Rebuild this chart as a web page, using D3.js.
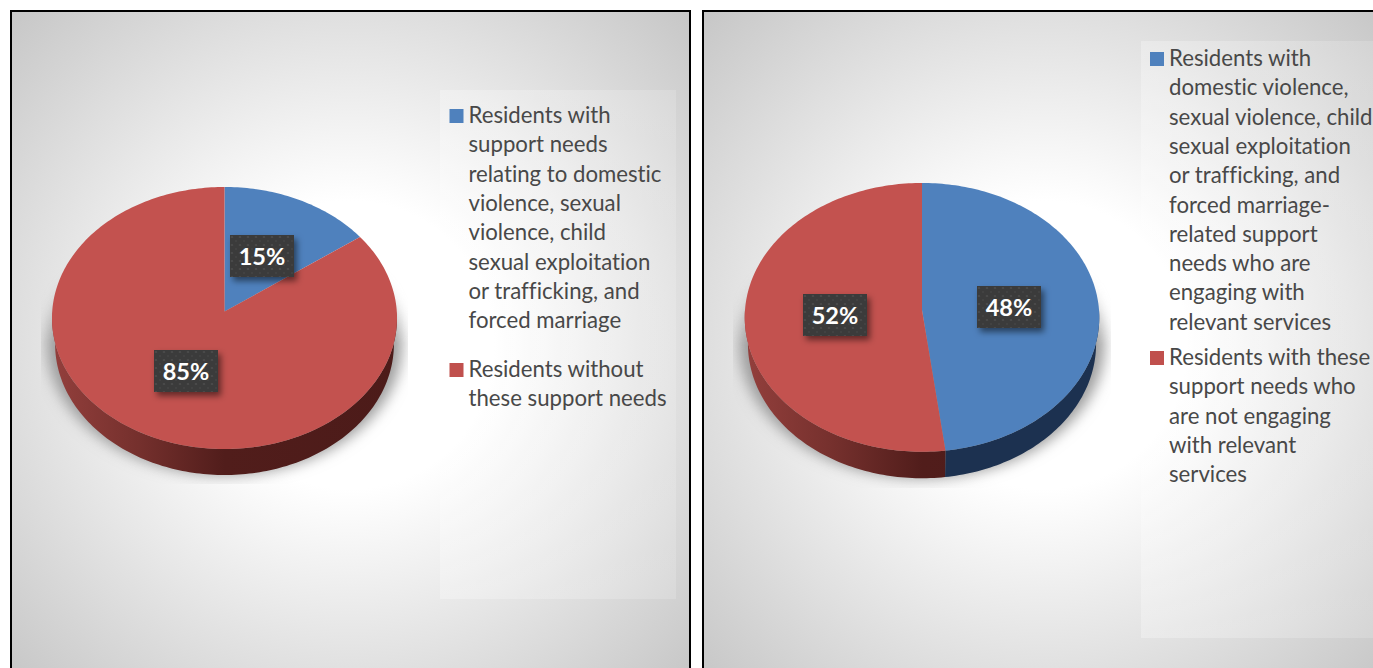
<!DOCTYPE html>
<html>
<head>
<meta charset="utf-8">
<script src="https://cdn.jsdelivr.net/npm/d3@7"></script>
<style>
  html, body { margin: 0; padding: 0; background: #fff; overflow: hidden; }
  svg { display: block; }
  text { font-family: Lato, "Noto Sans", sans-serif; font-variant-ligatures: none; }
</style>
</head>
<body>
<svg id="chart" width="1373" height="668"></svg>
<script>
// Shares per pie, in clockwise order from twelve o'clock
const prevalenceShares = [15, 85];
const engagementShares = [48, 52];

// Legend entries, already wrapped to the legend column
const prevalenceLegend = [
  ["Residents with", "support needs", "relating to domestic", "violence, sexual", "violence, child", "sexual exploitation", "or trafficking, and", "forced marriage"],
  ["Residents without", "these support needs"]
];
const engagementLegend = [
  ["Residents with", "domestic violence,", "sexual violence, child", "sexual exploitation", "or trafficking, and", "forced marriage-", "related support", "needs who are", "engaging with", "relevant services"],
  ["Residents with these", "support needs who", "are not engaging", "with relevant", "services"]
];

const sliceColours = ["#4f81bd", "#c3524f"];
const swatchColours = ["#4f81bd", "#c0504d"];
const wallColours = [
  [[0, "#1c3150"], [1, "#1c3150"]],
  [[0, "#933f3c"], [0.25, "#75302d"], [0.5, "#511d1b"], [1, "#4c1b19"]]
];

// Layout of each framed panel
const panels = [
  {
    id: "a", shares: prevalenceShares, legend: prevalenceLegend,
    frame: { x: 11, y: 11, w: 679, h: 700 }, glow: { cx: 350, cy: 345, r: 480 },
    pie: { cx: 224.5, tipY: 311.6, a: 130.7, b: 172.3, k: 0.0489, depth: 26 },
    shadow: { x: 41, y: 250, w: 367, h: 234 },
    legendBox: { x: 440, y: 90, w: 236, h: 509 },
    legendX: 449.5, legendStarts: [123, 377],
    labels: [[230, 235], [154, 350]]
  },
  {
    id: "b", shares: engagementShares, legend: engagementLegend,
    frame: { x: 703, y: 11, w: 690, h: 700 }, glow: { cx: 1043, cy: 345, r: 480 },
    pie: { cx: 922, tipY: 310, a: 134, b: 177, k: 0.0547, depth: 26.5 },
    shadow: { x: 733, y: 250, w: 378, h: 238 },
    legendBox: { x: 1141, y: 41, w: 240, h: 597 },
    legendX: 1150, legendStarts: [66, 365],
    labels: [[977, 286], [803, 294]]
  }
];

const LINE_GAP = 29.3;
const LABEL_W = 64, LABEL_H = 42;

const svg = d3.select("#chart");
const defs = svg.append("defs");

// Soft drop shadows for the pie and for the value labels
defs.append("filter").attr("id", "soft").attr("x", "-20%").attr("y", "-20%").attr("width", "140%").attr("height", "140%")
  .append("feGaussianBlur").attr("stdDeviation", 7);
const labelShadow = defs.append("filter").attr("id", "labelShadow").attr("x", "-20%").attr("y", "-20%").attr("width", "150%").attr("height", "160%");
labelShadow.append("feDropShadow").attr("dx", 3).attr("dy", 4).attr("stdDeviation", 3)
  .attr("flood-color", "#000").attr("flood-opacity", 0.5);

// Dotted texture on the value labels
const dots = defs.append("pattern").attr("id", "dots").attr("width", 8).attr("height", 8).attr("patternUnits", "userSpaceOnUse");
dots.append("rect").attr("width", 8).attr("height", 8).attr("fill", "#3b3b3b");
dots.append("circle").attr("cx", 2).attr("cy", 2).attr("r", 1.1).attr("fill", "#4d4d4d");
dots.append("circle").attr("cx", 6).attr("cy", 6).attr("r", 1.1).attr("fill", "#454545");

// Legend box veil, clearer towards the right
const veil = defs.append("linearGradient").attr("id", "veil");
veil.append("stop").attr("offset", 0).attr("stop-color", "#fff").attr("stop-opacity", 0.28);
veil.append("stop").attr("offset", 1).attr("stop-color", "#fff").attr("stop-opacity", 0.16);

// Vertical fade so that the pie shadow only appears around the lower half
const fade = defs.append("linearGradient").attr("id", "fade").attr("x1", 0).attr("x2", 0).attr("y1", 0).attr("y2", 1);
fade.append("stop").attr("offset", 0.05).attr("stop-color", "#000");
fade.append("stop").attr("offset", 0.4).attr("stop-color", "#fff");

const pieLayout = d3.pie().sort(null).value(d => d);
const line = d3.line();

panels.forEach(panel => {
  const g = svg.append("g");
  const { frame, glow, pie, shadow, legendBox } = panel;

  // Panel background with a radial sheen
  const sheen = defs.append("radialGradient").attr("id", "sheen-" + panel.id)
    .attr("gradientUnits", "userSpaceOnUse")
    .attr("cx", glow.cx).attr("cy", glow.cy).attr("r", glow.r);
  sheen.append("stop").attr("offset", 0.3).attr("stop-color", "#fff");
  sheen.append("stop").attr("offset", 1).attr("stop-color", "#c6c6c6");

  g.append("rect")
    .attr("x", frame.x).attr("y", frame.y).attr("width", frame.w).attr("height", frame.h)
    .attr("fill", `url(#sheen-${panel.id})`)
    .attr("stroke", "#000").attr("stroke-width", 2);

  // Perspective projection of a point on the unit disc (angle clockwise from the top)
  const project = (angle, radius = 1, drop = 0, shrink = 1) => {
    const x = radius * Math.sin(angle), z = radius * Math.cos(angle);
    const w = 1 + pie.k * z;
    return [pie.cx + shrink * pie.b * x / w, pie.tipY - pie.a * z / w + drop];
  };
  const rim = (a0, a1, drop, shrink) => {
    const n = Math.max(2, Math.ceil((a1 - a0) / 0.02));
    return d3.range(n + 1).map(i => project(a0 + (a1 - a0) * i / n, 1, drop, shrink));
  };
  const BOTTOM_SHRINK = 0.982;
  const slices = pieLayout(panel.shares);

  // Shadow cast by the pie, cut off by the plot's bounding box
  const clipId = "shadowClip-" + panel.id, maskId = "shadowMask-" + panel.id;
  defs.append("clipPath").attr("id", clipId).append("rect")
    .attr("x", shadow.x).attr("y", shadow.y).attr("width", shadow.w).attr("height", shadow.h);
  defs.append("mask").attr("id", maskId).attr("maskUnits", "userSpaceOnUse")
    .attr("x", shadow.x).attr("y", shadow.y).attr("width", shadow.w).attr("height", shadow.h)
    .append("rect").attr("x", shadow.x).attr("y", shadow.y).attr("width", shadow.w).attr("height", shadow.h)
    .attr("fill", "url(#fade)");
  g.append("g").attr("clip-path", `url(#${clipId})`).attr("mask", `url(#${maskId})`)
    .append("path")
    .attr("d", line(rim(0, 2 * Math.PI, pie.depth, 1.03)) + "Z")
    .attr("fill", "#9c9c9c").attr("filter", "url(#soft)");

  // Side wall gradients spanning the full pie width
  wallColours.forEach((stops, i) => {
    const grad = defs.append("linearGradient").attr("id", `wall-${panel.id}-${i}`)
      .attr("gradientUnits", "userSpaceOnUse")
      .attr("x1", pie.cx - pie.b).attr("x2", pie.cx + pie.b).attr("y1", 0).attr("y2", 0);
    stops.forEach(([o, c]) => grad.append("stop").attr("offset", o).attr("stop-color", c));
  });

  // Side wall: only the near half of the rim is visible
  g.selectAll(".wall").data(slices).join("path")
    .attr("class", "wall")
    .attr("fill", d => `url(#wall-${panel.id}-${d.index})`)
    .attr("d", d => {
      const a0 = Math.max(d.startAngle, Math.PI / 2), a1 = Math.min(d.endAngle, 3 * Math.PI / 2);
      if (a1 <= a0) return null;
      return line(rim(a0, a1, 0, 1).concat(rim(a0, a1, pie.depth, BOTTOM_SHRINK).reverse())) + "Z";
    });

  // Top face of the pie
  g.selectAll(".slice").data(slices).join("path")
    .attr("class", "slice")
    .attr("fill", d => sliceColours[d.index])
    .attr("d", d => line([project(0, 0)].concat(rim(d.startAngle, d.endAngle, 0, 1))) + "Z");

  // Value labels
  const labels = g.selectAll(".label").data(slices).join("g")
    .attr("class", "label")
    .attr("transform", d => `translate(${panel.labels[d.index]})`);
  labels.append("rect").attr("width", LABEL_W).attr("height", LABEL_H)
    .attr("fill", "url(#dots)").attr("filter", "url(#labelShadow)");
  labels.append("text")
    .attr("x", LABEL_W / 2).attr("y", LABEL_H / 2 + 9)
    .attr("text-anchor", "middle").attr("fill", "#fff")
    .attr("font-size", 23.5).attr("font-weight", 700)
    .text(d => d.data + "%");

  // Legend
  g.append("rect")
    .attr("x", legendBox.x).attr("y", legendBox.y).attr("width", legendBox.w).attr("height", legendBox.h)
    .attr("fill", "url(#veil)");
  const entries = g.selectAll(".entry").data(panel.legend).join("g").attr("class", "entry");
  entries.append("rect")
    .attr("x", panel.legendX).attr("y", (d, i) => panel.legendStarts[i] - 14)
    .attr("width", 14).attr("height", 14)
    .attr("fill", (d, i) => swatchColours[i]);
  entries.each(function (lines, i) {
    d3.select(this).selectAll("text").data(lines).join("text")
      .attr("x", panel.legendX + 19)
      .attr("y", (d, j) => panel.legendStarts[i] + j * LINE_GAP)
      .attr("font-size", 22.2).attr("fill", "#484848")
      .text(d => d);
  });
});
</script>
</body>
</html>
